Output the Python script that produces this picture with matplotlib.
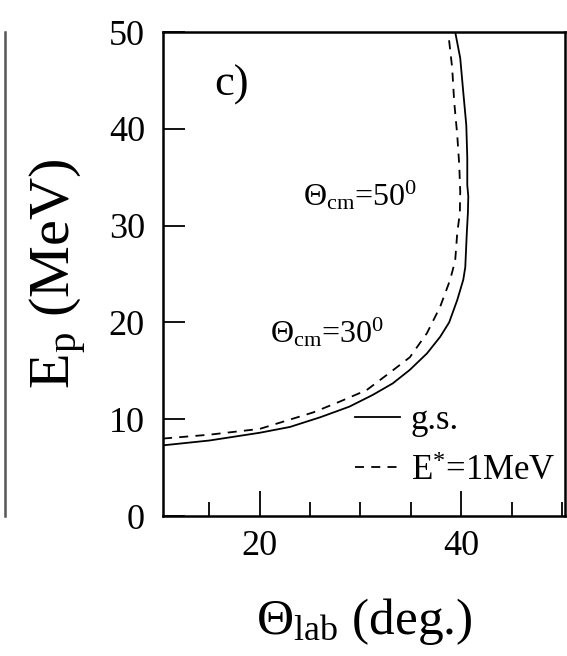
import numpy as np
import matplotlib
matplotlib.use("Agg")
import matplotlib.pyplot as plt
from matplotlib.ticker import MultipleLocator

plt.rcParams['font.family'] = ['Liberation Serif', 'DejaVu Serif']
plt.rcParams['mathtext.fontset'] = 'custom'
plt.rcParams['mathtext.rm'] = 'Liberation Serif'
plt.rcParams['mathtext.it'] = 'Liberation Serif'

# g.s. curve (theta_lab, E_p), read along the curve from low to high E_p
gs_theta = [10.4, 15.0, 20.0, 23.0, 26.0, 28.9, 31.2, 33.2, 34.9, 36.6, 37.9,
            38.8, 39.6, 40.2, 40.4, 40.55, 40.66, 40.7, 40.6, 40.6, 40.5,
            40.2, 39.9, 39.4]
gs_ep = [7.3, 7.8, 8.6, 9.2, 10.2, 11.3, 12.5, 13.7, 15.1, 16.8, 18.5,
         20.0, 22.3, 24.4, 25.7, 29.2, 31.3, 33.0, 34.2, 37.0, 40.4,
         43.8, 47.3, 50.0]

# E*=1MeV curve
ex_theta = [10.4, 15.0, 20.0, 25.3, 27.9, 30.6, 32.9, 34.9, 36.6, 37.9, 38.9,
            39.4, 39.6, 39.86, 39.9, 39.8, 39.6, 39.3, 39.1, 38.7]
ex_ep = [8.0, 8.4, 9.0, 10.7, 11.8, 13.0, 14.8, 16.4, 18.9, 21.6, 24.4,
         26.4, 29.2, 31.3, 33.5, 36.3, 39.4, 42.8, 46.3, 50.0]

fig = plt.figure(figsize=(5.67, 6.56), dpi=100)
ax = fig.add_axes([0.2875, 0.2134, 0.709, 0.7378])

ax.plot(gs_theta, gs_ep, '-', color='black', lw=1.3, label='g.s.')
ax.plot(ex_theta, ex_ep, '--', color='black', lw=1.3, dashes=(5, 4),
        label=r'E$^{*}$=1MeV')

ax.set_xlim(10.4, 50.3)
ax.set_ylim(0, 50)
ax.xaxis.set_major_locator(MultipleLocator(20))
ax.xaxis.set_minor_locator(MultipleLocator(5))
ax.yaxis.set_major_locator(MultipleLocator(10))
ax.tick_params(which='major', direction='in', length=18, width=1.3,
               labelsize=26, top=False, right=False)
ax.tick_params(which='minor', direction='in', length=10, width=1.3,
               top=False, right=False)
ax.tick_params(axis='y', length=16, pad=13)
ax.tick_params(axis='x', pad=10)
for s in ax.spines.values():
    s.set_linewidth(1.8)

ax.set_xlabel(r'$\Theta_{\rm lab}$ (deg.)', fontsize=37, labelpad=24)
ax.set_ylabel(r'E$_{\rm p}$ (MeV)', fontsize=42, labelpad=14)

ax.text(17.2, 44.5, 'c)', fontsize=32, ha='center', va='center')
ax.text(24.3, 32.1, r'$\Theta_{\rm cm}$=50$^0$', fontsize=23)
ax.text(21.0, 17.9, r'$\Theta_{\rm cm}$=30$^0$', fontsize=23)

ax.legend(loc='lower right', bbox_to_anchor=(1.01, 0.03), frameon=False,
          fontsize=25, handlelength=1.3, handletextpad=0.3, labelspacing=0.5,
          borderaxespad=0)

# edge of the neighbouring panel on the left
ax_left = fig.add_axes([-0.1, 0.2134, 0.109, 0.7378])
ax_left.set_xticks([])
ax_left.set_yticks([])
for k in ['left', 'top', 'bottom']:
    ax_left.spines[k].set_visible(False)
ax_left.spines['right'].set_linewidth(1.8)
ax_left.spines['right'].set_color('#555555')

fig.savefig('out.png', dpi=100)
